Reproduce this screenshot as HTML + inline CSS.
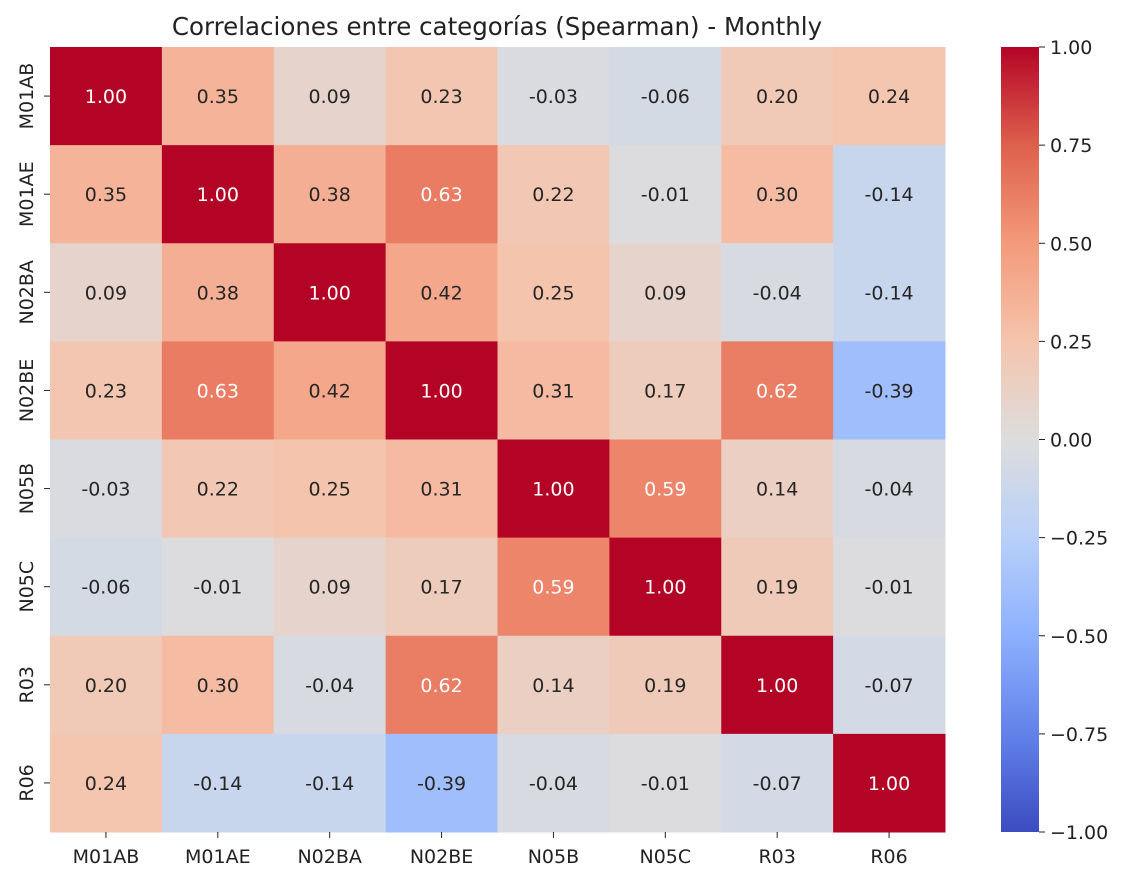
<!DOCTYPE html>
<html><head><meta charset="utf-8"><style>
body{margin:0;background:#fff;}
svg text{font-family:"DejaVu Sans","Liberation Sans",sans-serif;}
</style></head><body>
<svg id="chart" width="1133" height="882" xmlns="http://www.w3.org/2000/svg">
<text x="497" y="35" font-size="24.5" text-anchor="middle" fill="#222">Correlaciones entre categorías (Spearman) - Monthly</text>
<g id="cells"></g>
<g id="xt"></g>
<g id="yt"></g>
<defs><linearGradient id="cbg" x1="0" y1="1" x2="0" y2="0"></linearGradient></defs>
<rect x="1001" y="47" width="38" height="785" fill="url(#cbg)"/>
<g id="cbt"></g>
</svg>
<script>
const categories=["M01AB","M01AE","N02BA","N02BE","N05B","N05C","R03","R06"];
const row0=[1.00,0.35,0.09,0.23,-0.03,-0.06,0.20,0.24];
const row1=[0.35,1.00,0.38,0.63,0.22,-0.01,0.30,-0.14];
const row2=[0.09,0.38,1.00,0.42,0.25,0.09,-0.04,-0.14];
const row3=[0.23,0.63,0.42,1.00,0.31,0.17,0.62,-0.39];
const row4=[-0.03,0.22,0.25,0.31,1.00,0.59,0.14,-0.04];
const row5=[-0.06,-0.01,0.09,0.17,0.59,1.00,0.19,-0.01];
const row6=[0.20,0.30,-0.04,0.62,0.14,0.19,1.00,-0.07];
const row7=[0.24,-0.14,-0.14,-0.39,-0.04,-0.01,-0.07,1.00];
const matrix=[row0,row1,row2,row3,row4,row5,row6,row7];
const cbTicks=[-1,-0.75,-0.5,-0.25,0,0.25,0.5,0.75,1];
const NS="http://www.w3.org/2000/svg";
const X0=50,X1=945,Y0=47,Y1=832;
const cw=(X1-X0)/categories.length, ch=(Y1-Y0)/categories.length;
const xs=i=>X0+i*cw, ys=i=>Y0+i*ch;
const cmap=[[59,76,192],[98,130,234],[141,176,254],[184,208,249],[221,221,221],[245,196,173],[244,154,123],[222,96,77],[180,4,38]];
function color(v){let t=(v+1)/2*8;t=Math.max(0,Math.min(8,t));const i=Math.min(7,Math.floor(t)),f=t-i;const a=cmap[i],b=cmap[i+1];return `rgb(${a.map((c,k)=>Math.round(c+(b[k]-c)*f)).join(',')})`;}
function mk(tag,attrs,parent){const e=document.createElementNS(NS,tag);for(const k in attrs)e.setAttribute(k,attrs[k]);parent.appendChild(e);return e;}
const cells=document.getElementById('cells');
matrix.forEach((row,r)=>row.forEach((v,c)=>{
 const rect=mk('rect',{x:xs(c),y:ys(r),width:cw+0.5,height:ch+0.5,fill:color(v)},cells);
 
 
 const t=mk('text',{x:xs(c)+cw/2,y:ys(r)+ch/2+7,'font-size':19,'text-anchor':'middle',fill:Math.abs(v)>0.5?'#fff':'#262626'},cells);
 t.textContent=v.toFixed(2);
 
 
}));
const xt=document.getElementById('xt'),yt=document.getElementById('yt');
categories.forEach((c,i)=>{
 mk('line',{x1:xs(i)+cw/2,x2:xs(i)+cw/2,y1:Y1,y2:Y1+6,stroke:'#222'},xt);
 const t=mk('text',{x:xs(i)+cw/2,y:Y1+31,'font-size':19,'text-anchor':'middle',fill:'#222'},xt);
 t.textContent=c;
 
 
 mk('line',{x1:X0-6,x2:X0,y1:ys(i)+ch/2,y2:ys(i)+ch/2,stroke:'#222'},yt);
 const y=ys(i)+ch/2;
 const u=mk('text',{x:0,y:0,'font-size':19,'text-anchor':'middle',fill:'#222',transform:`translate(33,${y}) rotate(-90)`},yt);
 u.textContent=c;
 
 
});
const g=document.getElementById('cbg');
for(let i=0;i<=8;i++){mk('stop',{offset:i/8,'stop-color':`rgb(${cmap[i].join(',')})`},g);}
const cbt=document.getElementById('cbt');
cbTicks.forEach(v=>{
 const y=Y1-(v+1)/2*(Y1-Y0);
 mk('line',{x1:1039,x2:1045,y1:y,y2:y,stroke:'#222'},cbt);
 const t=mk('text',{x:1050,y:y+7,'font-size':19,fill:'#222'},cbt);
 t.textContent=(v<0?'\u2212':'')+Math.abs(v).toFixed(2);
 
 
});
</script>
</body></html>
